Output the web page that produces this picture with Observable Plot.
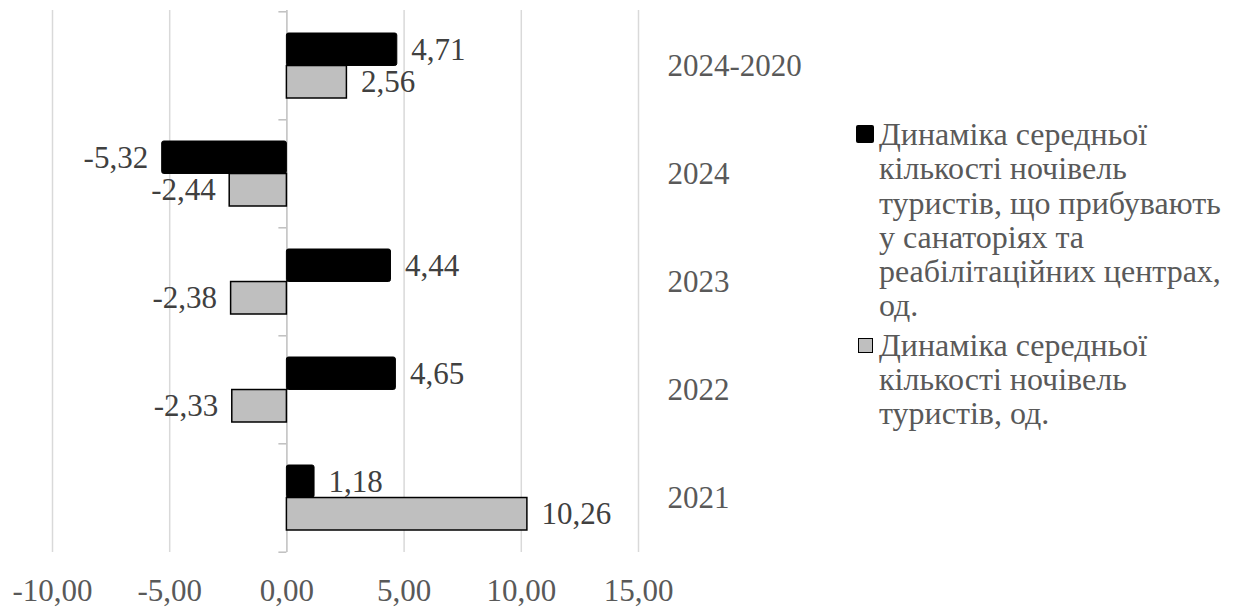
<!DOCTYPE html>
<html>
<head>
<meta charset="utf-8">
<script src="https://cdn.jsdelivr.net/npm/d3@7"></script>
<script src="https://cdn.jsdelivr.net/npm/@observablehq/plot@0.6"></script>
<style>
  html, body { margin: 0; padding: 0; background: #fff; }
  #wrap { position: relative; width: 1234px; height: 608px; font-family: 'Liberation Serif'; }
  #legend { position: absolute; left: 856px; top: 117px; color: #595959; font-family: 'Liberation Serif'; font-size: 32px; line-height: 34.3px; }
  .item { display: flex; align-items: flex-start; }
  .item + .item { margin-top: 5px; }
  .sw { flex: none; width: 18px; margin-top: 8px; margin-right: 5px; display: flex; justify-content: center; }
  .sw span { display: block; box-sizing: border-box; }
  .txt { width: 380px; white-space: nowrap; font-family: 'Liberation Serif'; }
  svg text { font-family: 'Liberation Serif'; }
</style>
</head>
<body>
<div id="wrap"><div id="chart"></div><div id="legend"></div></div>
<script>
const categories = ["2024-2020", "2024", "2023", "2022", "2021"];
const sanatoriumValues = [4.71, -5.32, 4.44, 4.65, 1.18];
const touristValues = [2.56, -2.44, -2.38, -2.33, 10.26];
const xTicks = [-10, -5, 0, 5, 10, 15];
const seriesNames = [
  "Динаміка середньої кількості ночівель туристів, що прибувають у санаторіях та реабілітаційних центрах, од.",
  "Динаміка середньої кількості ночівель туристів, од."
];
const seriesLines = [
  ["Динаміка середньої", "кількості ночівель", "туристів, що прибувають", "у санаторіях та", "реабілітаційних центрах,", "од."],
  ["Динаміка середньої", "кількості ночівель", "туристів, од."]
];
const seriesFill = ["#000000", "#bfbfbf"];

const FONT = "Liberation Serif";
const W = 1234, H = 608;
const mL = 52, mR = 596, mT = 10, mB = 56;
const padInner = 0.4, padOuter = 0.2;
const step = (H - mT - mB) / (categories.length - padInner + 2 * padOuter);
const half = step * (1 - padInner) / 2;

const black = categories.map((c, i) => ({cat: c, v: sanatoriumValues[i]}));
const gray = categories.map((c, i) => ({cat: c, v: touristValues[i]}));
const fmt = d => d.toFixed(2).replace(".", ",");
const labelOpts = {x: "v", y: "cat", text: d => fmt(d.v), fill: "#404040", fontSize: 31, fontFamily: FONT};

const chart = Plot.plot({
  width: W, height: H,
  marginLeft: mL, marginRight: mR, marginTop: mT, marginBottom: mB,
  style: {fontFamily: FONT, fontSize: "31px", color: "#595959", background: "#fff"},
  x: {domain: [-10, 15], ticks: xTicks, tickFormat: fmt, tickSize: 0, tickPadding: 26, label: null},
  y: {domain: categories, paddingInner: padInner, paddingOuter: padOuter, axis: "right", tickSize: 0, tickPadding: 29, label: null},
  marks: [
    Plot.ruleX(xTicks.filter(d => d !== 0), {stroke: "#d9d9d9", strokeWidth: 1.5}),
    Plot.ruleX([0], {stroke: "#bfbfbf", strokeWidth: 1.5}),
    Plot.ruleY(categories, {y: d => d, x1: 0, x2: 0, insetLeft: -8, dy: -step / 2, stroke: "#bfbfbf", strokeWidth: 1.5}),
    Plot.ruleY(categories.slice(-1), {y: d => d, x1: 0, x2: 0, insetLeft: -8, dy: step / 2, stroke: "#bfbfbf", strokeWidth: 1.5}),
    Plot.barX(gray, {x: "v", y: "cat", insetTop: half, fill: seriesFill[1], stroke: "#000", strokeWidth: 1.5}),
    Plot.barX(black, {x: "v", y: "cat", insetBottom: half, fill: seriesFill[0], stroke: "#000", strokeWidth: 1, rx: 2}),
    Plot.text(black.filter(d => d.v >= 0), {...labelOpts, dy: -half / 2, dx: 14, textAnchor: "start"}),
    Plot.text(black.filter(d => d.v < 0), {...labelOpts, dy: -half / 2, dx: -14, textAnchor: "end"}),
    Plot.text(gray.filter(d => d.v >= 0), {...labelOpts, dy: half / 2, dx: 14, textAnchor: "start"}),
    Plot.text(gray.filter(d => d.v < 0), {...labelOpts, dy: half / 2, dx: -14, textAnchor: "end"})
  ]
});
chart.querySelectorAll("text").forEach(t => t.style.fontFamily = FONT);
document.getElementById("chart").appendChild(chart);

const legend = document.getElementById("legend");
seriesLines.forEach((lines, i) => {
  const item = document.createElement("div");
  item.className = "item";
  item.title = seriesNames[i];
  const sw = document.createElement("div");
  sw.className = "sw";
  const sq = document.createElement("span");
  if (i === 0) {
    sq.style.cssText = "width:18px;height:18px;background:#000;border-radius:2px;";
  } else {
    sq.style.cssText = "width:15px;height:15px;background:#bfbfbf;border:1.5px solid #000;margin-top:2px;";
  }
  sw.appendChild(sq);
  const txt = document.createElement("div");
  txt.className = "txt";
  txt.innerHTML = lines.map(l => `<div>${l}</div>`).join("");
  item.appendChild(sw);
  item.appendChild(txt);
  legend.appendChild(item);
});
</script>
</body>
</html>
